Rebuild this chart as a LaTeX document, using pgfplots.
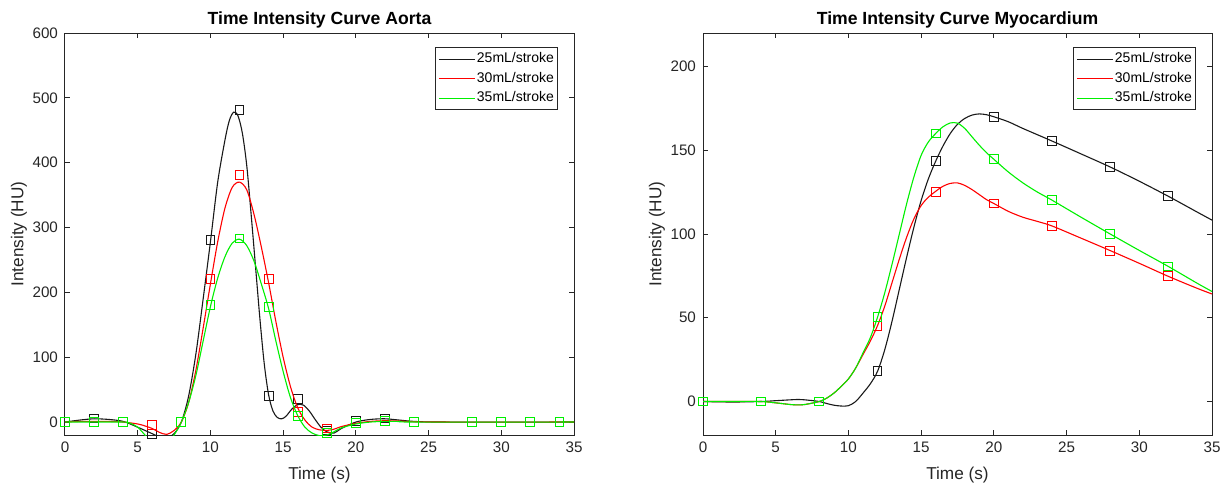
\documentclass[border=0pt]{standalone}
\usepackage{fontspec}
\setmainfont{Liberation Sans}
\usepackage{pgfplots}
\pgfplotsset{compat=1.18}
\definecolor{mlred}{RGB}{255,0,0}
\definecolor{mlgreen}{RGB}{0,240,0}
\definecolor{mlblack}{RGB}{25,25,25}
\definecolor{axgray}{RGB}{38,38,38}

\pgfplotsset{
  matlab/.style={
    scale only axis,
    width=254.5pt, height=201pt,
    xmin=0, xmax=35, xtick={0,5,...,35},
    tick align=inside, tick pos=both,
    major tick length=2.6pt,
    tick style={axgray, line width=0.5pt},
    axis line style={axgray, line width=0.5pt},
    ticklabel style={font=\fontsize{7.6}{9}\selectfont, text=axgray},
    label style={font=\fontsize{8.6}{10}\selectfont, text=axgray},
    ylabel shift=-4pt,
    title style={font=\bfseries\fontsize{8.8}{10}\selectfont,
      at={(0.5,1)}, anchor=base, yshift=-1.5pt},
    /pgf/number format/assume math mode=true,
    xlabel={Time (s)}, ylabel={Intensity (HU)},
    legend style={at={(0.9695,0.964)}, anchor=north east, draw=axgray,
      line width=0.5pt, font=\fontsize{7}{8}\selectfont,
      cells={anchor=west}, row sep=3pt, inner xsep=1.2pt, inner ysep=2.3pt,
      nodes={inner xsep=0.8pt, inner ysep=0pt, text height=5.2pt, text depth=1.5pt}},
    legend image code/.code={\draw[#1] (0pt,0pt) -- (18pt,0pt);},
    clip mode=individual,
  },
  crv/.style={line width=0.55pt, smooth, no marks},
  pts/.style={only marks, mark=square, mark size=2.2pt,
    mark options={line width=0.5pt}, forget plot},
}

\begin{document}
\begin{tikzpicture}
\useasboundingbox (-32.5pt,-27pt) rectangle (580pt,217.5pt);

% ---------- Aorta ----------
\begin{axis}[matlab, ymin=-20, ymax=600, ytick={0,100,...,600},
  title={Time Intensity Curve Aorta}]
\addplot[crv, mlblack] table {
0 0
1 3
2 5
3 4
4 1
5 -8
6 -18
6.5 -23
7 -25
7.5 -18
8 0
8.5 40
9 105
9.5 190
10 278
10.5 370
11 435
11.3 465
11.6 478
11.9 472
12.2 445
12.5 395
12.8 320
13.1 240
13.4 160
13.7 90
14 42
14.3 17
14.6 7
14.9 5
15.2 9
15.6 20
16 27
16.4 26
16.8 17
17.2 4
17.6 -8
18 -15
18.5 -17
19 -10
20 0
21 4
22 5
23 3
24 1
26 0
35 0
};
\addlegendentry{25mL/stroke}
\addplot[pts, mlblack] table {
0 0
2 5.6
4 0
6 -19
8 0
10 281
12 481
14 40
16 35
18 -13
20 1.5
22 5.6
};
\addplot[crv, mlred] table {
0 0
1 1
2 1
3 1
4 0
5 -3
5.5 -6
6 -10
6.5 -16
7 -19
7.5 -13
8 0
8.5 30
9 80
9.5 145
10 213
10.5 278
11 330
11.5 362
12 370
12.5 358
13 320
13.5 270
14 215
14.5 155
15 100
15.5 55
16 22
16.5 3
17 -8
17.5 -12
18 -13
18.5 -11
19 -7
20 -2
21 1
22 2
23 1.5
24 0.5
26 0
35 0
};
\addlegendentry{30mL/stroke}
\addplot[pts, mlred] table {
0 0
2 0
4 0
6 -4.6
8 0
10 220
12 381
14 220
16 16
18 -10
20 -1
22 2
};
\addplot[crv, mlgreen] table {
0 0
2 0
4 0
4.5 -2
5 -8
5.5 -20
6 -32
6.5 -38
7 -35
7.5 -20
8 0
8.5 30
9 72
9.5 125
10 178
10.5 222
11 255
11.5 276
12 282
12.5 272
13 248
13.5 213
14 175
14.5 125
15 78
15.5 38
16 10
16.5 -8
17 -17
17.5 -21
18 -20
18.5 -15
19 -9
20 -3
21 0
22 1
23 1
24 0
35 0
};
\addlegendentry{35mL/stroke}
\addplot[pts, mlgreen] table {
0 0
2 0
4 0
8 0
10 180
12 283
14 178
16 9
18 -17
20 -2
22 1
24 0
28 0
30 0
32 0
34 0
};
\end{axis}

% ---------- Myocardium ----------
\begin{axis}[matlab, at={(319pt,0pt)}, ymin=-20, ymax=220,
  ytick={0,50,...,200}, title={Time Intensity Curve Myocardium}]
\addplot[crv, mlblack] table {
0 0
2 -0.3
4 0
5 0.5
6 1
6.5 1.2
7 1
8 0
8.5 -1.2
9 -2.2
9.5 -2.7
10 -2.5
10.5 0
11 5
11.5 10.5
12 18
12.5 31
13 48
13.5 67
14 86
14.5 104
15 120
15.5 133
16 143.5
16.5 152.5
17 160
17.5 165.5
18 169
18.5 171
19 171.7
19.5 171.2
20 170
21 167
22 163
24 155.5
26 147.8
28 140
30 131.5
32 122.5
34 113
35 108.3
};
\addlegendentry{25mL/stroke}
\addplot[pts, mlblack] table {
0 0
4 0
8 0
12 18.2
16 143.5
20 170
24 155.5
28 140
32 122.5
};
\addplot[crv, mlred] table {
0 0
2 0
4 0
5 -0.8
6 -1.8
6.5 -2
7 -1.8
8 0
8.5 2
9 5
9.5 9
10 13.5
10.5 20
11 28
11.5 36
12 45.3
12.5 57
13 71
13.5 85
14 98
14.5 109
15 117
15.5 122
16 125.5
16.5 128.5
17 130.2
17.5 130.5
18 129
18.5 126.5
19 123.5
19.5 120.5
20 118.2
21 113.5
22 110
23 107.5
24 104.8
26 97.5
28 90.1
30 82.5
32 74.7
34 67.5
35 64.2
};
\addlegendentry{30mL/stroke}
\addplot[pts, mlred] table {
0 0
4 0
8 0
12 45.3
16 125
20 118.2
24 104.8
28 90
32 74.7
};
\addplot[crv, mlgreen] table {
0 0
2 0
4 0
5 -0.8
6 -1.8
6.5 -2
7 -1.8
8 0
8.5 2
9 5
9.5 9
10 13.5
10.5 20
11 29
11.5 38
12 50.3
12.5 65
13 82
13.5 100
14 118
14.5 134
15 147
15.5 155
16 160
16.5 164
17 166.3
17.5 166.2
18 163
18.5 158
19 153
19.5 148.5
20 144.6
21 137
22 130.5
23 125
24 120.2
26 110
28 100
30 90.2
32 80.6
34 70.5
35 65.7
};
\addlegendentry{35mL/stroke}
\addplot[pts, mlgreen] table {
0 0
4 0
8 0
12 50.3
16 160
20 144.6
24 120.2
28 100
32 80.6
};
\end{axis}
\end{tikzpicture}
\end{document}
